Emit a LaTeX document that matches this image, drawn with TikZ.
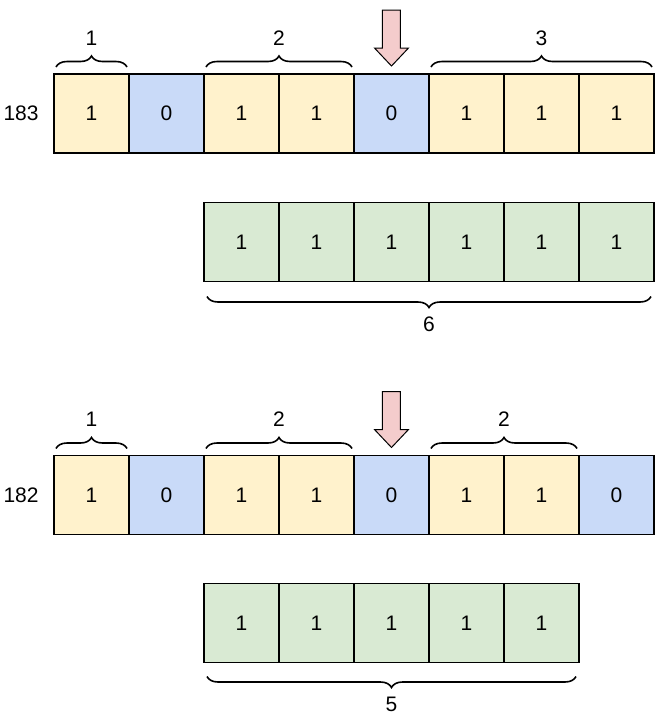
\documentclass[tikz,border=0pt]{standalone}
\usepackage{fontspec}
\setmainfont{Liberation Sans}
\usetikzlibrary{decorations.pathreplacing}
\definecolor{bit1}{HTML}{FFF2CC}
\definecolor{bit0}{HTML}{C9DAF8}
\definecolor{run}{HTML}{D9EAD3}
\definecolor{ptrfill}{HTML}{F4CCCC}
\begin{document}
\begin{tikzpicture}[
  x=0.5pt, y=-0.5pt,
  font=\fontsize{10.5}{12}\selectfont,
  cell/.style={rectangle, draw, line width=0.6pt, fill=#1, minimum width=37.5pt,
               minimum height=39.5pt, inner sep=0pt, outer sep=0pt},
  brc/.style={decorate, decoration={brace, amplitude=5.5pt}, line width=0.8pt},
  ptr/.style={draw, line width=0.5pt, fill=ptrfill},
  lbl/.style={inner sep=0pt}
]
  \useasboundingbox (0,0) rectangle (663,720);
  % 183
  \foreach \b [count=\i] in {1,0,1,1,0,1,1,1} {
    \pgfmathsetmacro{\x}{16.5 + 75*\i}
    \node[cell=bit\b] (x\i) at (\x, 113.5) {\b};
  }
  \node[lbl, anchor=east] (n183) at ([xshift=-7.5pt]x1.west) {183};
  % run of 6
  \foreach \i in {1,...,6} {
    \pgfmathsetmacro{\x}{166.5 + 75*\i}
    \node[cell=run] (p\i) at (\x, 242) {1};
  }
  % 182
  \foreach \b [count=\i] in {1,0,1,1,0,1,1,0} {
    \pgfmathsetmacro{\x}{16.5 + 75*\i}
    \node[cell=bit\b] (y\i) at (\x, 495) {\b};
  }
  \node[lbl, anchor=east] (n182) at ([xshift=-7.5pt]y1.west) {182};
  % run of 5
  \foreach \i in {1,...,5} {
    \pgfmathsetmacro{\x}{166.5 + 75*\i}
    \node[cell=run] (q\i) at (\x, 623) {1};
  }
  % Braces above
  \draw[brc] ([xshift=1pt, yshift=3.5pt]x1.north west) -- ([xshift=-1pt, yshift=3.5pt]x1.north east)
    node[lbl, midway, above=10.5pt] (bx1) {1};
  \draw[brc] ([xshift=1pt, yshift=3.5pt]x3.north west) -- ([xshift=-1pt, yshift=3.5pt]x4.north east)
    node[lbl, midway, above=10.5pt] (bx2) {2};
  \draw[brc] ([xshift=1pt, yshift=3.5pt]x6.north west) -- ([xshift=-1pt, yshift=3.5pt]x8.north east)
    node[lbl, midway, above=10.5pt] (bx3) {3};
  \draw[brc] ([xshift=1pt, yshift=3.5pt]y1.north west) -- ([xshift=-1pt, yshift=3.5pt]y1.north east)
    node[lbl, midway, above=10.5pt] (by1) {1};
  \draw[brc] ([xshift=1pt, yshift=3.5pt]y3.north west) -- ([xshift=-1pt, yshift=3.5pt]y4.north east)
    node[lbl, midway, above=10.5pt] (by2) {2};
  \draw[brc] ([xshift=1pt, yshift=3.5pt]y6.north west) -- ([xshift=-1pt, yshift=3.5pt]y7.north east)
    node[lbl, midway, above=10.5pt] (by3) {2};
  % Braces below
  \draw[brc] ([xshift=-1.5pt, yshift=-7.5pt]p6.south east) -- ([xshift=1.5pt, yshift=-7.5pt]p1.south west)
    node[lbl, midway, below=10pt] (bp) {6};
  \draw[brc] ([xshift=-1.5pt, yshift=-7pt]q5.south east) -- ([xshift=1.5pt, yshift=-7pt]q1.south west)
    node[lbl, midway, below=10pt] (bq) {5};
  % Pointers
  \foreach \n in {x5, y5} {
    \draw[ptr] ([yshift=4pt]\n.north) -- ++(17,-18) -- ++(-8,0) -- ++(0,-38)
      -- ++(-18,0) -- ++(0,38) -- ++(-8,0) -- cycle;
  }
\end{tikzpicture}
\end{document}
